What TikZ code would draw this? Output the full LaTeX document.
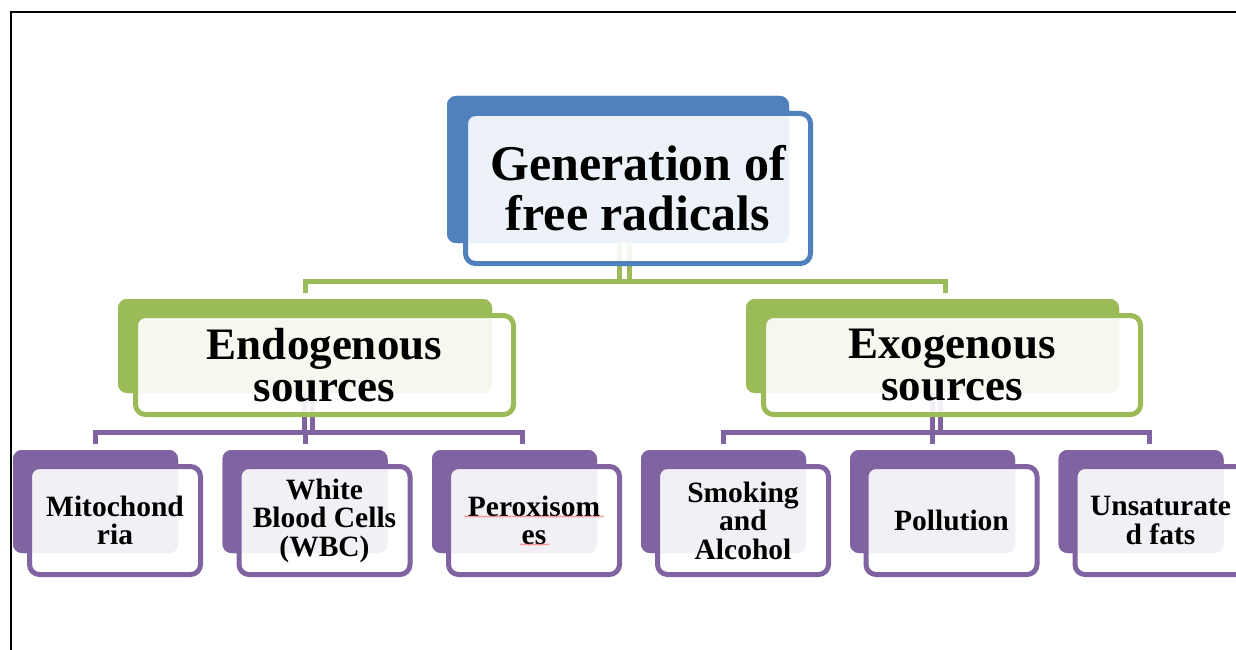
\documentclass[tikz,border=0pt]{standalone}
\usepackage{fontspec}
\setmainfont{Liberation Serif}
\usetikzlibrary{calc,decorations.pathmorphing}
\definecolor{cblue}{HTML}{4F81BD}
\definecolor{cgreen}{HTML}{9BBB59}
\definecolor{cpurple}{HTML}{8064A2}
\begin{document}
\begin{tikzpicture}[x=1pt,y=-1pt,
  backbox/.style={fill=#1, draw=none, rounded corners=9pt, inner sep=0pt, outer sep=0pt},
  frontbox/.style={draw=#1, line width=5pt, fill=white, fill opacity=0.9, text opacity=1,
    rounded corners=10pt, inner sep=0pt, outer sep=0pt, align=center, font=\bfseries},
  topback/.style={backbox=cblue, minimum width=342pt, minimum height=147pt},
  topfront/.style={frontbox=cblue, minimum width=345pt, minimum height=150pt,
    font=\bfseries\fontsize{50}{50}\selectfont},
  midback/.style={backbox=cgreen, minimum width=374pt, minimum height=94pt},
  midfront/.style={frontbox=cgreen, minimum width=378pt, minimum height=99pt,
    font=\bfseries\fontsize{45}{42}\selectfont},
  leafback/.style={backbox=cpurple, minimum width=165pt, minimum height=103pt},
  leaffront/.style={frontbox=cpurple, minimum width=171pt, minimum height=108pt,
    font=\bfseries\fontsize{29.5}{28.5}\selectfont},
  gconn/.style={draw=cgreen, line width=5pt},
  pconn/.style={draw=cpurple, line width=5pt},
  squig/.style={draw=red!55, line width=0.6pt, decorate,
    decoration={snake, amplitude=0.7pt, segment length=3pt}},
  framel/.style={draw=black, line width=2pt}
]
\useasboundingbox (0,0) rectangle (1236,650);
\clip (0,0) rectangle (1236,650);

% frame
\coordinate (fa) at (10.5,650);
\coordinate (fb) at (10.5,12);
\coordinate (fc) at (1236,12);
\draw[framel] (fa) -- (fb) -- (fc);

\coordinate (gbar) at (624,281);
\coordinate (pbarL) at (308,432);
\coordinate (pbarR) at (936,432);

% back boxes
\node[topback] (topB) at (618,169.5) {};
\node[midback] (endoB) at (305,346) {};
\node[midback, minimum width=373pt] (exoB) at (932.5,346) {};
\node[leafback] (mitoB) at (95.5,501.5) {};
\node[leafback] (wbcB) at (305,501.5) {};
\node[leafback] (peroxB) at (514.5,501.5) {};
\node[leafback] (smokeB) at (723.5,501.5) {};
\node[leafback] (pollB) at (932.5,501.5) {};
\node[leafback] (unsatB) at (1141,501.5) {};

% green connectors
\draw[gconn] ([xshift=1pt]topB.south) ++(0,-10) -- ([xshift=1pt]topB.south |- gbar);
\draw[gconn] ([xshift=11.5pt]topB.south) ++(0,-10) -- ([xshift=11.5pt]topB.south |- gbar);
\draw[gconn] ([yshift=6pt]endoB.north) |- (gbar) -| ([xshift=12.5pt,yshift=6pt]exoB.north);

% purple connectors
\draw[pconn] ([xshift=-1pt,yshift=10pt]endoB.south) -- ([xshift=-1pt]endoB.south |- pbarL);
\draw[pconn] ([xshift=7pt,yshift=10pt]endoB.south) -- ([xshift=7pt]endoB.south |- pbarL);
\draw[pconn] ([yshift=6pt]mitoB.north) |- (pbarL) -| ([xshift=7.5pt,yshift=6pt]peroxB.north);
\draw[pconn] ([yshift=6pt]wbcB.north) -- (wbcB.north |- pbarL);

\draw[pconn] ([xshift=-0.5pt,yshift=10pt]exoB.south) -- ([xshift=-0.5pt]exoB.south |- pbarR);
\draw[pconn] ([xshift=7.5pt,yshift=10pt]exoB.south) -- ([xshift=7.5pt]exoB.south |- pbarR);
\draw[pconn] ([xshift=-0.5pt,yshift=6pt]smokeB.north) |- (pbarR) -| ([xshift=8pt,yshift=6pt]unsatB.north);
\draw[pconn] ([yshift=6pt]pollB.north) -- (pollB.north |- pbarR);

% redraw back boxes over connector ends
\node[topback] at (topB.center) {};
\node[midback] at (endoB.center) {};
\node[midback, minimum width=373pt] at (exoB.center) {};
\foreach \b in {mitoB,wbcB,peroxB,smokeB,pollB,unsatB}{
  \node[leafback] at (\b.center) {};
}

% front boxes with text
\node[topfront] (top) at (638,188.5) {Generation of\\free radicals};
\node[midfront] (endo) at (324.5,365) {Endogenous\\sources};
\node[midfront, minimum width=377pt] (exo) at (952,365) {Exogenous\\sources};
\node[leaffront] (mito) at (115,520.5) {Mitochond\\ria};
\node[leaffront] (wbc) at (324.5,520.5) {White\\Blood Cells\\(WBC)};
\node[leaffront] (perox) at (534,520.5) {Peroxisom\\es};
\node[leaffront] (smoke) at (743,520.5) {Smoking\\and\\Alcohol};
\node[leaffront] (poll) at (951.5,520.5) {Pollution};
\node[leaffront] (unsat) at (1160.5,520.5) {Unsaturate\\d fats};

% spell-check underline seen in the reference
\draw[squig] ($(perox.center)+(-70,-4)$) -- ++(140,0);
\draw[squig] ($(perox.center)+(-14,24)$) -- ++(29,0);
\end{tikzpicture}
\end{document}
